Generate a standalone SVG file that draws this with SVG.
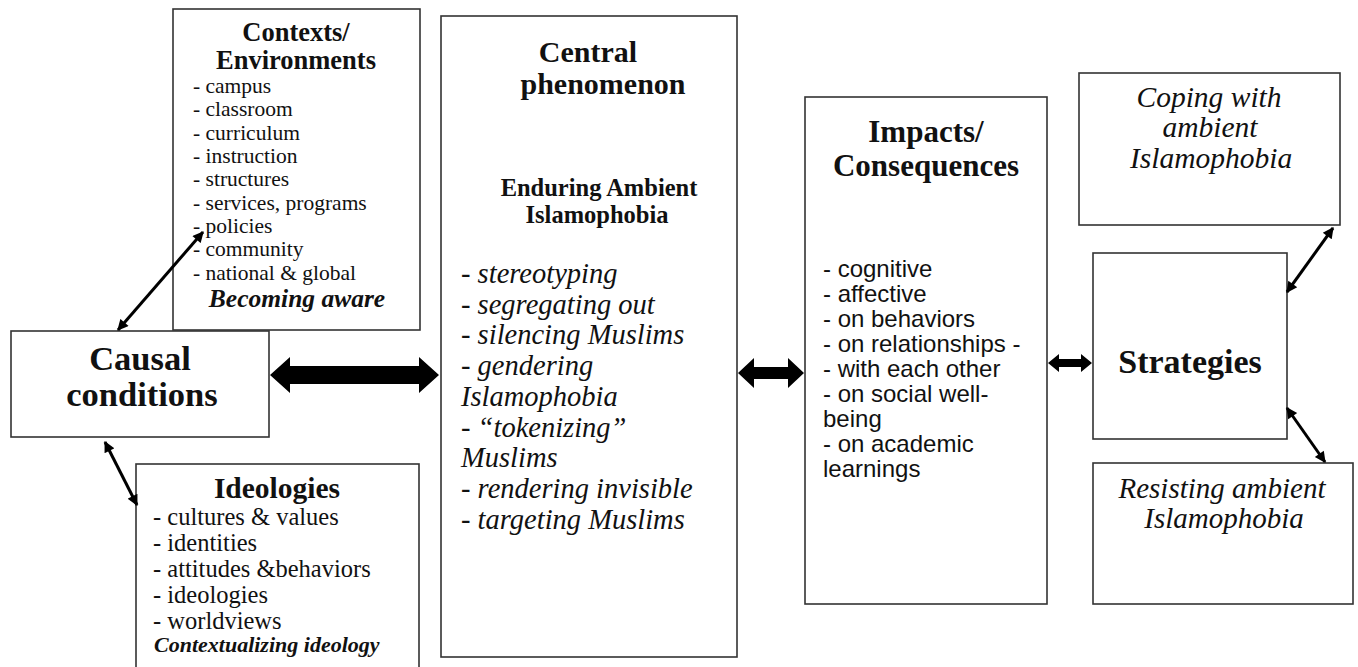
<svg xmlns="http://www.w3.org/2000/svg" width="1358" height="667" viewBox="0 0 1358 667">
<defs>
<style>
.box{fill:#fff;stroke:#333;stroke-width:1.6}
.t{font-family:"Liberation Serif","Times New Roman",serif;fill:#111}
.b{font-weight:bold}
.i{font-style:italic}
.s{font-family:"Liberation Sans",Arial,sans-serif;fill:#111}
.c{text-anchor:middle}
.thin{stroke:#000;stroke-width:3;fill:none;marker-start:url(#ah);marker-end:url(#ah)}
.thick{fill:#000}
</style>
<marker id="ah" viewBox="0 0 10 10" refX="9" refY="5" markerWidth="13" markerHeight="11" markerUnits="userSpaceOnUse" orient="auto-start-reverse">
<path d="M0,0 L10,5 L0,10 z" fill="#000"/>
</marker>
</defs>
<rect width="1358" height="667" fill="#fff"/>

<g id="contexts">
<rect class="box" x="173" y="9" width="247" height="321"/>
<text class="t b c" x="296" y="41" font-size="26.5">Contexts/</text>
<text class="t b c" x="296" y="69" font-size="26.5">Environments</text>
<g class="t" font-size="21.5">
<text x="193" y="93">- campus</text>
<text x="193" y="116">- classroom</text>
<text x="193" y="140">- curriculum</text>
<text x="193" y="163">- instruction</text>
<text x="193" y="186">- structures</text>
<text x="193" y="210">- services, programs</text>
<text x="193" y="233">- policies</text>
<text x="193" y="256">- community</text>
<text x="193" y="280">- national &amp; global</text>
</g>
<text class="t b i c" x="297" y="307" font-size="25.5">Becoming aware</text>
</g>

<g id="causal">
<rect class="box" x="11" y="331" width="258" height="106"/>
<text class="t b c" x="140" y="370" font-size="34.5">Causal</text>
<text class="t b c" x="142" y="406" font-size="34.5">conditions</text>
</g>

<g id="ideologies">
<rect class="box" x="136" y="464" width="283" height="210"/>
<text class="t b c" x="277" y="498" font-size="29.5">Ideologies</text>
<g class="t" font-size="24.5">
<text x="153" y="525">- cultures &amp; values</text>
<text x="153" y="551">- identities</text>
<text x="153" y="577">- attitudes &amp;behaviors</text>
<text x="153" y="603">- ideologies</text>
<text x="153" y="629">- worldviews</text>
</g>
<text class="t b i" x="154" y="652" font-size="22">Contextualizing ideology</text>
</g>

<g id="central">
<rect class="box" x="441" y="16" width="296" height="641"/>
<text class="t b c" x="588" y="62" font-size="30">Central</text>
<text class="t b c" x="603" y="94" font-size="30">phenomenon</text>
<text class="t b c" x="599" y="196" font-size="24.5">Enduring Ambient</text>
<text class="t b c" x="597" y="223" font-size="24.5">Islamophobia</text>
<g class="t i" font-size="28.5">
<text x="461" y="283">- stereotyping</text>
<text x="461" y="314">- segregating out</text>
<text x="461" y="344">- silencing Muslims</text>
<text x="461" y="375">- gendering</text>
<text x="461" y="406">Islamophobia</text>
<text x="461" y="437">- “tokenizing”</text>
<text x="461" y="467">Muslims</text>
<text x="461" y="498">- rendering invisible</text>
<text x="461" y="529">- targeting Muslims</text>
</g>
</g>

<g id="impacts">
<rect class="box" x="805" y="97" width="242" height="507"/>
<text class="t b c" x="926" y="142" font-size="31">Impacts/</text>
<text class="t b c" x="926" y="176" font-size="31">Consequences</text>
<g class="s" font-size="24">
<text x="823" y="277">- cognitive</text>
<text x="823" y="302">- affective</text>
<text x="823" y="327">- on behaviors</text>
<text x="823" y="352">- on relationships -</text>
<text x="823" y="377">- with each other</text>
<text x="823" y="402">- on social well-</text>
<text x="823" y="427">being</text>
<text x="823" y="452">- on academic</text>
<text x="823" y="477">learnings</text>
</g>
</g>

<g id="coping">
<rect class="box" x="1079" y="73" width="261" height="152"/>
<g class="t i c" font-size="29.5">
<text x="1209" y="107">Coping with</text>
<text x="1210" y="137">ambient</text>
<text x="1211" y="168">Islamophobia</text>
</g>
</g>

<g id="strategies">
<rect class="box" x="1093" y="253" width="194" height="186"/>
<text class="t b c" x="1190" y="373" font-size="34">Strategies</text>
</g>

<g id="resisting">
<rect class="box" x="1093" y="463" width="260" height="141"/>
<g class="t i c" font-size="29">
<text x="1222" y="498">Resisting ambient</text>
<text x="1224" y="528">Islamophobia</text>
</g>
</g>

<g id="connectors">
<polygon class="thick" points="270,375 290,357 290,366 419,366 419,357 439,375 419,393 419,384 290,384 290,393"/>
<polygon class="thick" points="738,373 754,358 754,367 788,367 788,358 804,373 788,388 788,379 754,379 754,388"/>
<polygon class="thick" points="1048,363 1059,354 1059,359 1081,359 1081,354 1092,363 1081,372 1081,367 1059,367 1059,372"/>
<line class="thin" x1="118" y1="330" x2="203" y2="232"/>
<line class="thin" x1="105" y1="442" x2="137" y2="505"/>
<line class="thin" x1="1333" y1="228" x2="1287" y2="292"/>
<line class="thin" x1="1287" y1="408" x2="1325" y2="462"/>
</g>
</svg>
